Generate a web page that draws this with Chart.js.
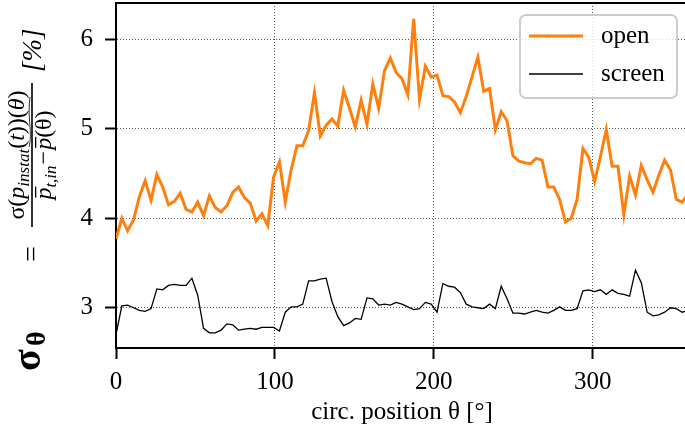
<!DOCTYPE html>
<html>
<head>
<meta charset="utf-8">
<script src="https://cdn.jsdelivr.net/npm/chart.js@4.4.1/dist/chart.umd.min.js"></script>
<style>
html, body { margin: 0; padding: 0; background: #fff; overflow: hidden; }
canvas { display: block; }
</style>
</head>
<body>
<canvas id="c" width="690" height="433"></canvas>
<script>
// values, one per sample around the circumference
const openVals = [3.77, 4.00, 3.86, 3.98, 4.24, 4.42, 4.20, 4.49, 4.35, 4.15,
  4.19, 4.28, 4.10, 4.07, 4.18, 4.03, 4.25, 4.12, 4.07, 4.14,
  4.29, 4.35, 4.23, 4.17, 3.97, 4.05, 3.92, 4.46, 4.63, 4.18,
  4.54, 4.81, 4.81, 4.98, 5.40, 4.92, 5.04, 5.11, 5.03, 5.43,
  5.23, 5.02, 5.32, 5.05, 5.50, 5.23, 5.65, 5.79, 5.63, 5.56,
  5.38, 6.23, 5.33, 5.70, 5.58, 5.60, 5.37, 5.36, 5.30, 5.18,
  5.36, 5.58, 5.80, 5.42, 5.45, 4.99, 5.19, 5.09, 4.70, 4.64,
  4.62, 4.61, 4.67, 4.65, 4.35, 4.35, 4.21, 3.96, 4.00, 4.21,
  4.78, 4.68, 4.41, 4.69, 4.99, 4.58, 4.58, 4.04, 4.47, 4.26,
  4.59, 4.43, 4.29, 4.48, 4.65, 4.54, 4.21, 4.18, 4.27];

const screenVals = [2.70, 3.02, 3.03, 3.00, 2.97, 2.96, 2.99, 3.21, 3.20, 3.25,
  3.26, 3.25, 3.25, 3.33, 3.14, 2.77, 2.72, 2.72, 2.75, 2.82,
  2.81, 2.75, 2.76, 2.77, 2.76, 2.78, 2.78, 2.78, 2.74, 2.95,
  3.01, 3.01, 3.04, 3.30, 3.30, 3.32, 3.33, 3.07, 2.90, 2.80,
  2.83, 2.88, 2.87, 3.11, 3.10, 3.03, 3.04, 3.03, 3.06, 3.04,
  3.01, 2.98, 2.99, 3.06, 3.04, 2.95, 3.27, 3.24, 3.23, 3.17,
  3.04, 3.01, 3.00, 2.99, 3.04, 2.99, 3.24, 3.10, 2.94, 2.94,
  2.93, 2.95, 2.97, 2.95, 2.94, 2.97, 3.01, 2.97, 2.97, 2.99,
  3.19, 3.20, 3.18, 3.20, 3.15, 3.20, 3.16, 3.15, 3.13, 3.42,
  3.28, 2.95, 2.91, 2.92, 2.95, 3.00, 2.99, 2.95, 2.97];

// evenly spaced circumferential positions, 0..360 deg
const angles = openVals.map((v, i) => i * 360 / 98);
const xTicks = [0, 100, 200, 300];
const yTicks = [3, 4, 5, 6];
const seriesNames = ['open', 'screen'];
const seriesColors = ['#ff7f0e', '#000000'];

const SERIF = '"Liberation Serif", "DejaVu Serif", serif';
Chart.defaults.font.family = SERIF;
Chart.defaults.font.size = 25;
Chart.defaults.color = '#000';

function toPts(ys) {
  return ys.map((y, i) => ({ x: angles[i], y: y }));
}

// draws a row of text pieces along the current x direction
function drawRuns(ctx, runs, u0, v0, measureOnly) {
  let u = u0;
  runs.forEach(r => {
    ctx.font = r.f;
    const w = ctx.measureText(r.t).width;
    if (!measureOnly) {
      ctx.fillText(r.t, u, v0 + (r.dy || 0));
      if (r.bar) ctx.fillRect(u + 2, v0 - 16, w - 1, 1.3);
    }
    u += w + (r.sp || 0);
  });
  return u - u0;
}

const extras = {
  id: 'extras',
  afterDraw(chart) {
    const ctx = chart.ctx;
    const a = chart.chartArea;
    ctx.save();

    // top + right spines
    ctx.strokeStyle = '#000';
    ctx.lineWidth = 2;
    ctx.beginPath();
    ctx.moveTo(a.left, a.top);
    ctx.lineTo(a.right, a.top);
    ctx.lineTo(a.right, a.bottom);
    ctx.stroke();

    // legend
    ctx.fillStyle = 'rgba(255,255,255,0.8)';
    ctx.strokeStyle = '#cccccc';
    ctx.lineWidth = 2;
    ctx.beginPath();
    ctx.roundRect(520, 15, 157, 83, 6);
    ctx.fill();
    ctx.stroke();
    const rows = [36, 74];
    const widths = [3, 1.3];
    seriesNames.forEach((name, i) => {
      ctx.strokeStyle = seriesColors[i];
      ctx.lineWidth = widths[i];
      ctx.beginPath();
      ctx.moveTo(529, rows[i]);
      ctx.lineTo(583, rows[i]);
      ctx.stroke();
      ctx.fillStyle = '#000';
      ctx.font = '25px ' + SERIF;
      ctx.textBaseline = 'middle';
      ctx.fillText(name, 601, rows[i]);
    });

    // y-axis label, drawn as a rotated fraction
    ctx.translate(32, 200);
    ctx.rotate(-Math.PI / 2);
    ctx.fillStyle = '#000';
    ctx.textBaseline = 'alphabetic';
    const big = '24px ' + SERIF, bigI = 'italic 24px ' + SERIF, sub = 'italic 17px ' + SERIF;

    // left part: sigma_theta =
    ctx.font = 'bold 40px ' + SERIF;
    ctx.fillText('σ', -171, 8);
    ctx.font = 'bold 28px ' + SERIF;
    ctx.fillText('θ', -146, 13);
    ctx.font = '28px ' + SERIF;
    ctx.fillText('=', -62, 8);

    // fraction bar
    ctx.fillRect(-27, -0.8, 144, 1.6);

    const num = [
      { t: 'σ(', f: big }, { t: 'p', f: bigI }, { t: 'instat', f: sub, dy: 5 },
      { t: '(', f: big }, { t: 't', f: bigI }, { t: '))(', f: big },
      { t: 'θ', f: bigI }, { t: ')', f: big }
    ];
    const den = [
      { t: 'p', f: bigI, bar: true }, { t: 't,in', f: sub, dy: 5, sp: 1 },
      { t: '−', f: big, sp: 1 }, { t: 'p', f: bigI, bar: true }, { t: '(θ)', f: big }
    ];
    const nw = drawRuns(ctx, num, 0, 0, true);
    drawRuns(ctx, num, 45 - nw / 2, -8);
    const dw = drawRuns(ctx, den, 0, 0, true);
    drawRuns(ctx, den, 45 - dw / 2, 19);

    // wide tilde under the numerator
    ctx.strokeStyle = '#000';
    ctx.lineWidth = 0.8;
    ctx.beginPath();
    ctx.moveTo(53, -3);
    ctx.bezierCurveTo(68, 1, 80, -5, 103, -2);
    ctx.stroke();

    ctx.font = 'italic 27px ' + SERIF;
    ctx.fillText('[%]', 128, 9);
    ctx.restore();
  }
};

const gridOpts = {
  color: 'rgba(0,0,0,0.75)', lineWidth: 0.9,
  tickLength: 11, tickColor: '#000', tickWidth: 2, tickBorderDash: []
};

const ctx = document.getElementById('c');
new Chart(ctx, {
  type: 'line',
  data: {
    datasets: [{
      label: seriesNames[0],
      data: toPts(openVals),
      borderColor: seriesColors[0],
      borderWidth: 3,
      pointRadius: 0,
      tension: 0
    }, {
      label: seriesNames[1],
      data: toPts(screenVals),
      borderColor: seriesColors[1],
      borderWidth: 1.3,
      pointRadius: 0,
      tension: 0
    }]
  },
  options: {
    responsive: false,
    animation: false,
    layout: { padding: { top: 3, right: 2, left: 0, bottom: 0 } },
    plugins: { legend: { display: false }, tooltip: { enabled: false } },
    scales: {
      x: {
        type: 'linear',
        min: 0,
        max: 360,
        afterBuildTicks: s => { s.ticks = xTicks.map(v => ({ value: v })); },
        afterFit: s => { s.height = 85; s.paddingLeft = 0; s.paddingRight = 0; },
        ticks: { padding: 8, maxRotation: 0 },
        grid: gridOpts,
        border: { color: '#000', width: 2, dash: [1, 2] },
        title: { display: true, text: 'circ. position θ [°]', font: { size: 25 }, padding: { top: 0, bottom: 6 } }
      },
      y: {
        min: 2.55,
        max: 6.406,
        afterBuildTicks: s => { s.ticks = yTicks.map(v => ({ value: v })); },
        afterFit: s => { s.width = 116; s.paddingTop = 0; s.paddingBottom = 0; },
        ticks: { padding: 12 },
        grid: gridOpts,
        border: { color: '#000', width: 2, dash: [1, 2] }
      }
    }
  },
  plugins: [extras]
});
</script>
</body>
</html>
